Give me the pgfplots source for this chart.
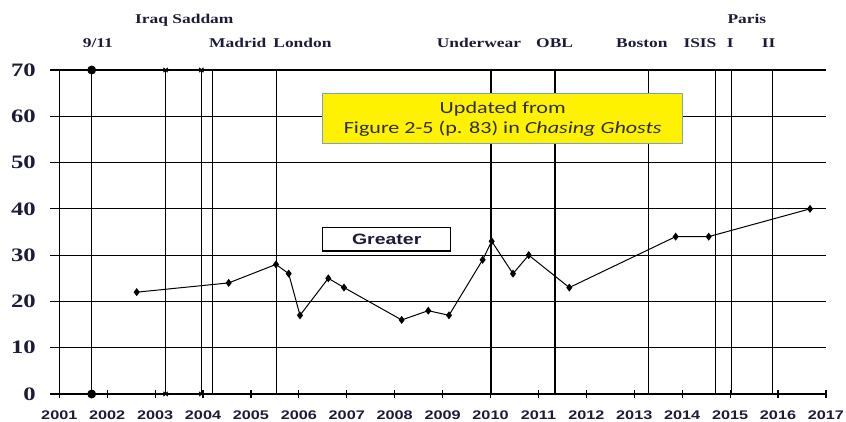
\documentclass[border=0pt]{standalone}
\usepackage{fontspec}
\setmainfont{Liberation Serif}[FakeStretch=1.3]
\newfontfamily\arialb{Liberation Sans}[FakeStretch=1.3]
\newfontfamily\calib{Carlito}[FakeStretch=1.3]
\usepackage{pgfplots}
\pgfplotsset{compat=1.18}
\definecolor{txt}{RGB}{28,28,58}
\definecolor{boxblue}{RGB}{120,160,210}
\definecolor{boxtxt}{RGB}{45,45,45}
\begin{document}
\begin{tikzpicture}
\useasboundingbox (0,0) rectangle (846pt,421pt);
\begin{axis}[
  at={(50pt,27pt)}, anchor=south west,
  scale only axis, width=776pt, height=324pt,
  xmin=2000.806, xmax=2017, ymin=0, ymax=70,
  clip=false,
  axis line style={draw=none},
  xtick={2001,...,2017}, ytick={0,10,...,70},
  xtick pos=bottom, ytick pos=left,
  tick align=center, major tick length=0pt,
  tick style={draw=none},
  ymajorgrids, grid style={black, line width=1.2pt},
  /pgf/number format/assume math mode=true,
  /pgf/number format/1000 sep={},
  xticklabel style={font=\arialb\bfseries\fontsize{12.5}{12.5}\selectfont, text=txt, anchor=north, inner sep=0pt, yshift=-16.5pt},
  yticklabel style={font=\bfseries\fontsize{19}{19}\selectfont, text=txt, anchor=east, inner sep=0pt, xshift=-14pt},
]
% axis line and event lines
\addplot[black, line width=1.2pt] coordinates {(2001,0) (2001,70)};
\addplot[black, line width=1.2pt, mark=*, mark size=3.8pt] coordinates {(2001.676,0) (2001.676,70)};
\addplot[black, line width=1.2pt, mark=x, mark size=3pt, mark options={line width=1.1pt}] coordinates {(2003.220,0) (2003.220,70)};
\addplot[black, line width=1.2pt, mark=x, mark size=3pt, mark options={line width=1.1pt}] coordinates {(2003.963,0) (2003.963,70)};
\addplot[black, line width=1.2pt] coordinates {(2004.201,0) (2004.201,70)};
\addplot[black, line width=1.2pt] coordinates {(2005.537,0) (2005.537,70)};
\addplot[black, line width=1.2pt] coordinates {(2010.009,0) (2010.009,70)};
\addplot[black, line width=1.2pt] coordinates {(2011.345,0) (2011.345,70)};
\addplot[black, line width=1.2pt] coordinates {(2013.291,0) (2013.291,70)};
\addplot[black, line width=1.2pt] coordinates {(2014.690,0) (2014.690,70)};
\addplot[black, line width=1.2pt] coordinates {(2015.032,0) (2015.032,70)};
\addplot[black, line width=1.2pt] coordinates {(2015.879,0) (2015.879,70)};
% x axis tick marks
\addplot[only marks, mark=|, mark size=4pt, mark options={line width=1.2pt, black}] coordinates {
 (2001,0) (2002,0) (2003,0) (2004,0) (2005,0) (2006,0) (2007,0) (2008,0) (2009,0)
 (2010,0) (2011,0) (2012,0) (2013,0) (2014,0) (2015,0) (2016,0) (2017,0)
};
% data series
\addplot[black, line width=1pt, mark=diamond*, mark size=3.2pt] coordinates {
 (2002.615,22) (2004.535,24) (2005.522,28) (2005.787,26) (2006.023,17)
 (2006.614,25) (2006.941,23) (2008.145,16) (2008.700,18) (2009.132,17)
 (2009.835,29) (2010.023,33) (2010.468,26) (2010.796,30) (2011.643,23)
 (2013.863,34) (2014.552,34) (2016.666,40)
};
\end{axis}
% event labels
\begin{scope}[every node/.style={inner sep=0pt, text=txt, font=\bfseries\fontsize{13.4}{13.4}\selectfont}]
\node[anchor=base west] at (135pt,397.7pt) {Iraq Saddam};
\node[anchor=base west] at (727.3pt,397.7pt) {Paris};
\node[anchor=base west] at (82.7pt,373.3pt) {9/11};
\node[anchor=base west] at (209pt,373.3pt) {Madrid};
\node[anchor=base east] at (331.7pt,373.3pt) {London};
\node[anchor=base west] at (436.7pt,373.3pt) {Underwear};
\node[anchor=base west] at (536pt,373.3pt) {OBL};
\node[anchor=base west] at (616pt,373.3pt) {Boston};
\node[anchor=base west] at (683.3pt,373.3pt) {ISIS};
\node[anchor=base west] at (726.7pt,373.3pt) {I};
\node[anchor=base west] at (761.7pt,373.3pt) {II};
\end{scope}
% boxes
\node[draw=boxblue, line width=1pt, fill=yellow, minimum width=360pt, minimum height=50pt, inner sep=0pt, align=center, text=boxtxt, font=\calib\fontsize{17}{19.5}\selectfont] at (502.7pt,302pt) {Updated from\\Figure 2-5 (p. 83) in \textit{Chasing Ghosts}};
\node[draw=black, line width=1.3pt, fill=white, minimum width=128pt, minimum height=23.3pt, inner sep=0pt, text=txt, font=\arialb\bfseries\fontsize{15}{15}\selectfont] at (386.7pt,181.7pt) {Greater};
\end{tikzpicture}
\end{document}
